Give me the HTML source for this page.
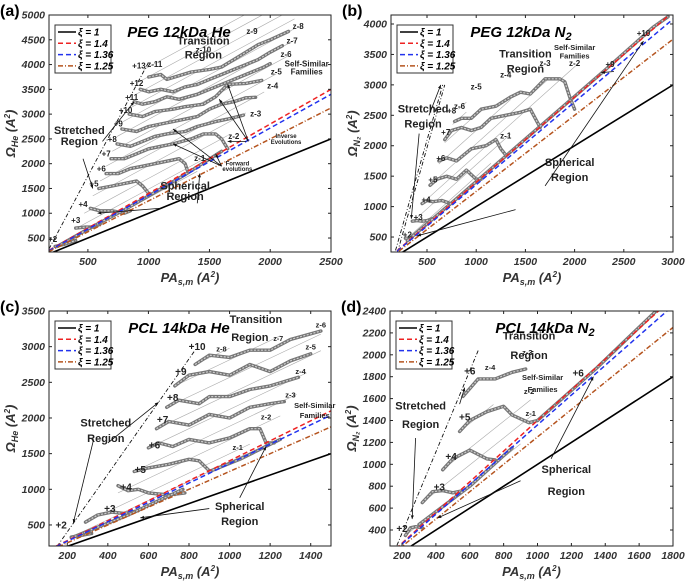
<!DOCTYPE html>
<html><head><meta charset="utf-8"><style>
html,body{margin:0;padding:0;background:#fff}
svg text{font-family:"Liberation Sans",sans-serif}
</style></head><body>
<svg id="fig" width="685" height="581" viewBox="0 0 685 581" xmlns="http://www.w3.org/2000/svg"></svg>
<script>
// ---------- data ----------
const xiValues = [1, 1.4, 1.36, 1.25];
const xiLabels = ["ξ = 1", "ξ = 1.4", "ξ = 1.36", "ξ = 1.25"];
const xiColors = ["#000", "#ee2222", "#2233ee", "#b5541f"];
const xiDash = ["", "5,3", "5,3", "5,2,1,2"];

const ticksXA = [500, 1000, 1500, 2000, 2500];
const ticksYA = [500, 1000, 1500, 2000, 2500, 3000, 3500, 4000, 4500, 5000];
const ticksXB = [500, 1000, 1500, 2000, 2500, 3000];
const ticksYB = [500, 1000, 1500, 2000, 2500, 3000, 3500, 4000];
const ticksXC = [200, 400, 600, 800, 1000, 1200, 1400];
const ticksYC = [500, 1000, 1500, 2000, 2500, 3000, 3500];
const ticksXD = [200, 400, 600, 800, 1000, 1200, 1400, 1600, 1800];
const ticksYD = [400, 600, 800, 1000, 1200, 1400, 1600, 1800, 2000, 2200, 2400];

const zSlopes = [1.33, 1.45, 1.35, 1.23];
const zStartsA = [[260,330,1400],[400,690,1450],[470,1000,1650],[540,1350,1800],[600,1650,1950],[650,1950,2050],[700,2250,2150],[740,2550,2200],[790,2850,2200],[830,3100,2200],[880,3380,2200],[920,3650,2200],[960,3900,2200]];
const zStartsB = [[300,480,1150],[360,760,1350],[450,1050,2050],[530,1350,1750],[620,1700,1350],[680,2050,1050],[760,2350,900],[820,2600,900]];
const zStartsC = [[220,330,1080],[290,540,1100],[450,950,1250],[530,1250,1330],[600,1580,1380],[640,1850,1450],[690,2150,1450],[730,2450,1250],[830,2750,1000]];
const zStartsD = [[220,350,900],[320,650,980],[440,950,960],[540,1300,740]];

const curvesA = [
 [[230,330],[300,370],[400,450]],
 [[400,700],[480,720],[550,720],[600,780]],
 [[520,1100],[600,1050],[700,1050],[800,1000],[850,1050]],
 [[590,1500],[700,1550],[800,1600],[900,1650],[950,1550],[1000,1400]],
 [[650,1800],[750,1800],[850,1900],[950,1950],[1050,2000],[1150,2050],[1250,2100],[1300,2000],[1320,1850]],
 [[690,2100],[800,2100],[900,2200],[1000,2300],[1100,2350],[1200,2400],[1350,2500],[1450,2600],[1550,2600],[1600,2500],[1650,2300]],
 [[740,2400],[850,2350],[950,2450],[1050,2550],[1150,2600],[1300,2650],[1400,2750],[1550,2850],[1650,2900],[1780,2980]],
 [[780,2700],[900,2650],[1000,2750],[1100,2800],[1200,2850],[1400,2950],[1500,3100],[1600,3200],[1700,3250],[1800,3330],[1880,3340]],
 [[840,3000],[950,2950],[1050,3050],[1200,3100],[1300,3150],[1450,3200],[1550,3350],[1650,3600],[1800,3620],[1930,3680]],
 [[880,3250],[950,3200],[1050,3250],[1150,3350],[1250,3300],[1400,3400],[1550,3550],[1650,3650],[1750,3750],[1850,3850],[1950,3950],[2000,4020]],
 [[930,3500],[1000,3450],[1100,3500],[1200,3450],[1300,3550],[1400,3600],[1500,3700],[1600,3800],[1700,3900],[1800,4000],[1900,4100],[2000,4250],[2100,4380]],
 [[1000,3750],[1100,3800],[1150,3700],[1350,3850],[1500,3900],[1600,3950],[1700,4100],[1800,4250],[1900,4400],[2000,4500],[2150,4670]],
 [[250,330],[500,680],[800,1070],[1000,1350],[1300,1780],[1600,2250]]
];
const curvesB = [
 [[280,480],[330,480],[350,500]],
 [[350,760],[400,770],[450,760],[500,770],[550,800]],
 [[450,1050],[500,1100],[560,1080],[650,1100],[720,1060]],
 [[530,1350],[600,1450],[700,1500],[800,1450],[900,1600],[1000,1450],[1050,1450]],
 [[620,1750],[700,1800],[800,1750],[950,1950],[1100,2000],[1200,2100],[1250,1950],[1300,1850]],
 [[680,2100],[750,2250],[850,2300],[950,2250],[1050,2300],[1150,2450],[1300,2500],[1450,2550],[1550,2600],[1600,2450],[1650,2300]],
 [[780,2400],[850,2450],[950,2450],[1050,2600],[1200,2650],[1350,2800],[1450,2880],[1550,2850],[1700,3100],[1850,3100],[1900,3050],[1950,2800],[2000,2600]],
 [[300,440],[800,1130],[1300,1830],[1800,2530],[2300,3230],[2800,3950],[2950,4120]]
];
const curvesC = [
 [[220,330],[260,350],[320,380]],
 [[290,540],[350,640],[420,680],[480,660],[550,700]],
 [[450,1050],[500,980],[550,1000],[600,950],[700,920],[780,950]],
 [[530,1250],[600,1300],[700,1350],[800,1420],[850,1400],[900,1260]],
 [[600,1580],[650,1650],[720,1600],[800,1700],[900,1650],[1000,1720],[1100,1850],[1150,1850],[1180,1650],[1220,1650]],
 [[640,1850],[700,1950],[800,1900],[900,2050],[1000,2000],[1100,2150],[1200,2200],[1270,2230]],
 [[690,2150],[750,2250],[850,2200],[900,2300],[1000,2300],[1100,2400],[1200,2450],[1340,2570]],
 [[730,2450],[800,2600],[900,2650],[1000,2600],[1100,2750],[1200,2650],[1300,2800],[1400,2900]],
 [[830,2750],[900,2880],[1000,2850],[1100,2950],[1200,2950],[1300,3100],[1450,3220]],
 [[220,320],[500,640],[770,1000]],
 [[900,1250],[1050,1420],[1250,1700]]
];
const curvesD = [
 [[220,350],[250,420],[280,430],[320,420]],
 [[320,650],[380,750],[440,760],[500,740],[560,760]],
 [[440,950],[500,1050],[600,1130],[700,1050],[750,1040]],
 [[540,1300],[600,1400],[700,1480],[800,1530],[850,1450],[950,1380],[1000,1400]],
 [[560,1620],[650,1780],[750,1780],[850,1840],[930,1870]],
 [[300,450],[600,800],[850,1150]],
 [[1000,1400],[1350,1880],[1700,2400]]
];

// ---------- rendering ----------
const NS = "http://www.w3.org/2000/svg";
const svg = document.getElementById("fig");
function mk(tag, attrs, parent) {
  const e = document.createElementNS(NS, tag);
  for (const k in attrs) e.setAttribute(k, attrs[k]);
  (parent || svg).appendChild(e);
  return e;
}
let clipId = 0;
function panel(cfg) {
  const g = mk("g", {});
  
  
  const sx = v => cfg.L + (v - cfg.x0) / (cfg.x1 - cfg.x0) * (cfg.R - cfg.L);
  const sy = v => cfg.B - (v - cfg.y0) / (cfg.y1 - cfg.y0) * (cfg.B - cfg.T);
  const cid = "clip" + (clipId++);
  const cp = mk("clipPath", {id: cid}, g);
  mk("rect", {x: cfg.L, y: cfg.T, width: cfg.R - cfg.L, height: cfg.B - cfg.T}, cp);
  const plot = mk("g", {"clip-path": "url(#" + cid + ")"}, g);
  cfg.zs.forEach(z => {
    const yEnd = z[1] + cfg.zSlope * (z[2] - z[0]);
    const l = mk("line", {x1: sx(z[0]), y1: sy(z[1]), x2: sx(z[2]), y2: sy(yEnd), stroke: "#aaa", "stroke-width": 0.6}, plot);
    
    
  });
  cfg.stretch.forEach(s => {
    const l = mk("line", {x1: sx(s[0]), y1: sy(s[1]), x2: sx(s[2]), y2: sy(s[3]), stroke: "#111", "stroke-width": 0.9, "stroke-dasharray": "4,2,1,2"}, plot);
    
    
  });
  cfg.curves.forEach((c, i) => {
    const pts = c.map(p => sx(p[0]).toFixed(1) + "," + sy(p[1]).toFixed(1)).join(" ");
    const o = mk("polyline", {points: pts, fill: "none", stroke: "#767676", "stroke-width": 3.4, "stroke-linejoin": "round", "stroke-linecap": "round"}, plot);
    
    
    mk("polyline", {points: pts, fill: "none", stroke: "#cfcfcf", "stroke-width": 1.2, "stroke-dasharray": "2,1.5"}, plot);
  });
  xiValues.forEach((xi, i) => {
    const l = mk("line", {x1: sx(cfg.x0), y1: sy(cfg.x0 * xi), x2: sx(cfg.x1), y2: sy(cfg.x1 * xi), stroke: xiColors[i], "stroke-width": i === 0 ? 1.6 : 1.5, "stroke-dasharray": xiDash[i]}, plot);
    
    
  });
  const box = mk("rect", {x: cfg.L, y: cfg.T, width: cfg.R - cfg.L, height: cfg.B - cfg.T, fill: "none", stroke: "#222", "stroke-width": 1}, g);
  
  
  cfg.xt.forEach(v => {
    mk("line", {x1: sx(v), x2: sx(v), y1: cfg.B, y2: cfg.B - 3, stroke: "#222"}, g);
    mk("line", {x1: sx(v), x2: sx(v), y1: cfg.T, y2: cfg.T + 3, stroke: "#222"}, g);
    const t = mk("text", {x: sx(v), y: cfg.B + 13, "text-anchor": "middle", "font-size": 10.5, "font-weight": "bold", "font-style": "italic", fill: "#333"}, g);
    t.textContent = v;
    
    
  });
  cfg.yt.forEach(v => {
    mk("line", {x1: cfg.L, x2: cfg.L + 3, y1: sy(v), y2: sy(v), stroke: "#222"}, g);
    mk("line", {x1: cfg.R, x2: cfg.R - 3, y1: sy(v), y2: sy(v), stroke: "#222"}, g);
    const t = mk("text", {x: cfg.L - 4, y: sy(v) + 3.5, "text-anchor": "end", "font-size": 10.5, "font-weight": "bold", "font-style": "italic", fill: "#333"}, g);
    t.textContent = v;
    
    
  });
  const cx = (cfg.L + cfg.R) / 2;
  const xt = mk("text", {x: cx, y: cfg.B + 30, "text-anchor": "middle", "font-size": 13, "font-weight": "bold", "font-style": "italic", fill: "#333"}, g);
  xt.innerHTML = 'PA<tspan font-size="9" dy="3">s,m</tspan><tspan dy="-3"> (A</tspan><tspan font-size="8" dy="-5">2</tspan><tspan dy="5">)</tspan>';
  
  
  const cy = (cfg.T + cfg.B) / 2;
  const yt = mk("text", {x: 0, y: 0, "text-anchor": "middle", "font-size": 13, "font-weight": "bold", "font-style": "italic", fill: "#333", transform: "translate(" + (cfg.L - 34) + "," + cy + ") rotate(-90)"}, g);
  yt.innerHTML = 'Ω<tspan font-size="9" dy="3">' + cfg.gas + '</tspan><tspan dy="-3"> (A</tspan><tspan font-size="8" dy="-5">2</tspan><tspan dy="5">)</tspan>';
  
  
  const pl = mk("text", {x: cfg.L - 49, y: cfg.T + 1, "font-size": 16, "font-weight": "bold", fill: "#000"}, g);
  pl.textContent = "(" + cfg.id + ")";
  
  
  const ti = mk("text", {x: cfg.L + cfg.titleX, y: cfg.T + 22, "text-anchor": "middle", "font-size": 15, "font-weight": "bold", "font-style": "italic", fill: "#000"}, g);
  ti.innerHTML = cfg.title;
  
  
  const lg = mk("g", {}, g);
  
  
  const lx = cfg.L + 6, ly = cfg.T + 10;
  mk("rect", {x: lx, y: ly, width: 56, height: 48, fill: "#fff", stroke: "#333", "stroke-width": 1}, lg);
  xiValues.forEach((xi, i) => {
    const yy = ly + 7 + i * 11.3;
    mk("line", {x1: lx + 3, x2: lx + 21, y1: yy, y2: yy, stroke: xiColors[i], "stroke-width": 1.5, "stroke-dasharray": xiDash[i]}, lg);
    const t = mk("text", {x: lx + 23, y: yy + 3.5, "font-size": 10, "font-weight": "bold", "font-style": "italic", fill: "#000"}, lg);
    t.textContent = xiLabels[i];
    
    
  });
  cfg.texts.forEach(a => {
    const t = mk("text", {x: sx(a[0]), y: sy(a[1]), "text-anchor": "middle", "font-size": a[3], "font-weight": "bold", fill: "#222"}, g);
    t.textContent = a[2];
    
    
  });
  cfg.arrows.forEach(a => {
    const x1 = sx(a[0]), y1 = sy(a[1]), x2 = sx(a[2]), y2 = sy(a[3]);
    mk("line", {x1, y1, x2, y2, stroke: "#111", "stroke-width": 0.8}, g);
    const ang = Math.atan2(y2 - y1, x2 - x1), s = 4;
    const p = [[x2, y2], [x2 - s * Math.cos(ang - 0.4), y2 - s * Math.sin(ang - 0.4)], [x2 - s * Math.cos(ang + 0.4), y2 - s * Math.sin(ang + 0.4)]];
    const h = mk("polygon", {points: p.map(q => q.join(",")).join(" "), fill: "#111"}, g);
    
    
  });
}

panel({id: "a", L: 49, R: 331, T: 15, B: 252, x0: 180, x1: 2500, y0: 218, y1: 5000,
  xt: ticksXA, yt: ticksYA, gas: "He", titleX: 130, title: "PEG 12kDa He", curves: curvesA,
  stretch: [[180, 280, 1000, 4050]], zs: zStartsA, zSlope: zSlopes[0],
  texts: [[1450,4400,"Transition",11],[1450,4120,"Region",11],[430,2600,"Stretched",11],[430,2380,"Region",11],[1300,1480,"Spherical",11],[1300,1270,"Region",11],
    [2300,3960,"Self-Similar",8],[2300,3800,"Families",8],[2130,2520,"Inverse",6],[2130,2400,"Evolutions",6],[1730,1960,"Forward",6],[1730,1850,"evolutions",6],
    [1050,3950,"z-11",8],[1450,4240,"z-10",8],[1850,4620,"z-9",8],[2230,4720,"z-8",8],[2180,4420,"z-7",8],[2130,4150,"z-6",8],[2050,3800,"z-5",8],[2020,3520,"z-4",8],[1880,2950,"z-3",8],[1700,2500,"z-2",8],[1420,2050,"z-1",8],
    [920,3920,"+13",8],[900,3570,"+12",8],[860,3280,"+11",8],[810,3020,"+10",8],[750,2750,"+9",8],[700,2440,"+8",8],[650,2140,"+7",8],[610,1840,"+6",8],[550,1540,"+5",8],[460,1130,"+4",8],[400,800,"+3",8],[210,420,"+2",8]],
  arrows: [[620,2450,880,3250],[460,2100,540,1500],[1100,1100,580,1000],[1400,1200,1420,1800],[1820,2450,1650,3600],[1820,2450,1580,3300],[1800,2450,1650,2450],[1600,1950,1200,2700],[1600,1950,1200,2400],[1600,1950,1550,2200]]
});
panel({id: "b", L: 391, R: 673, T: 15, B: 252, x0: 134, x1: 3000, y0: 254, y1: 4148,
  xt: ticksXB, yt: ticksYB, gas: "N₂", titleX: 130, title: "PEG 12kDa N<tspan font-size=\"11\" dy=\"3\">2</tspan>", curves: curvesB,
  stretch: [[180, 280, 660, 3000], [200, 250, 680, 3000]], zs: zStartsB, zSlope: zSlopes[1],
  texts: [[1500,3450,"Transition",11],[1500,3200,"Region",11],[460,2550,"Stretched",11],[460,2300,"Region",11],[1950,1670,"Spherical",11],[1950,1420,"Region",11],
    [2000,3570,"Self-Similar",7.5],[2000,3430,"Families",7.5],[830,2600,"z-6",8],[1000,2920,"z-5",8],[1300,3120,"z-4",8],[1700,3310,"z-3",8],[2000,3310,"z-2",8],[1300,2120,"z-1",8],
    [750,2530,"+8",8],[690,2180,"+7",8],[640,1750,"+6",8],[560,1400,"+5",8],[490,1070,"+4",8],[410,780,"+3",8],[300,490,"+2",8],[2700,3800,"+10",8],[2360,3290,"+9",8]],
  arrows: [[420,2200,340,800],[520,2500,640,3000],[1400,950,400,520],[1700,1340,2700,3720],[2400,3220,2270,3200]]
});
panel({id: "c", L: 49, R: 331, T: 311, B: 546, x0: 110, x1: 1500, y0: 205, y1: 3500,
  xt: ticksXC, yt: ticksYC, gas: "He", titleX: 130, title: "PCL 14kDa He", curves: curvesC,
  stretch: [[150, 200, 830, 2950]], zs: zStartsC, zSlope: zSlopes[2],
  texts: [[1130,3330,"Transition",11],[1100,3080,"Region",11],[1240,3080,"z-7",7],[390,1880,"Stretched",11],[390,1660,"Region",11],[1050,710,"Spherical",11],[1050,500,"Region",11],
    [1420,2140,"Self-Similar",7.5],[1420,2000,"Families",7.5],[1450,3270,"z-6",7.5],[1400,2960,"z-5",7.5],[1350,2620,"z-4",7.5],[1300,2290,"z-3",7.5],[1180,1980,"z-2",7.5],[1040,1550,"z-1",7.5],[960,2930,"z-8",7.5],
    [840,2950,"+10",10],[760,2600,"+9",10],[720,2240,"+8",10],[670,1930,"+7",10],[630,1570,"+6",10],[560,1230,"+5",10],[490,980,"+4",10],[410,680,"+3",10],[170,450,"+2",10]],
  arrows: [[330,1700,230,530],[400,1650,650,2220],[900,730,560,600],[1050,880,1180,1600]]
});
panel({id: "d", L: 390, R: 673, T: 311, B: 546, x0: 129, x1: 1800, y0: 254, y1: 2400,
  xt: ticksXD, yt: ticksYD, gas: "N₂", titleX: 155, title: "PCL 14kDa N<tspan font-size=\"11\" dy=\"3\">2</tspan>", curves: curvesD,
  stretch: [[170, 260, 650, 2040]], zs: zStartsD, zSlope: zSlopes[3],
  texts: [[950,2140,"Transition",11],[950,1960,"Region",11],[310,1500,"Stretched",11],[310,1330,"Region",11],[1170,920,"Spherical",11],[1170,720,"Region",11],
    [1030,1770,"Self-Similar",7.5],[1030,1660,"Families",7.5],[720,1860,"z-4",7.5],[940,2000,"z-3",7.5],[950,1640,"z-2",7.5],[960,1440,"z-1",7.5],
    [600,1820,"+6",10],[1240,1800,"+6",10],[570,1400,"+5",10],[490,1040,"+4",10],[420,760,"+3",10],[200,380,"+2",10]],
  arrows: [[540,1550,570,1700],[280,1240,260,500],[900,850,410,510],[1080,1050,1330,1800]]
});
</script>
</body></html>
